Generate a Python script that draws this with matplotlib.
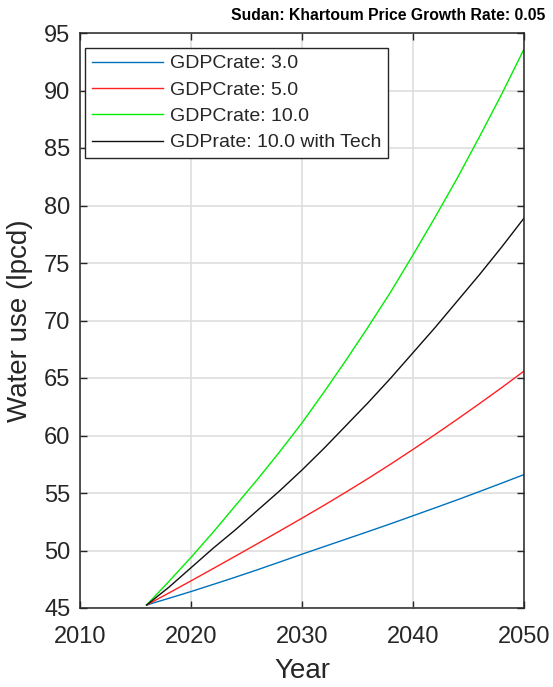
import matplotlib.pyplot as plt
import numpy as np

plt.rcParams['font.family'] = ['Liberation Sans', 'DejaVu Sans']

# values (every two years)
years = list(range(2016, 2051, 2))
gdp3 = [45.26, 45.84, 46.43, 47.05, 47.68, 48.33, 49.0, 49.68, 50.34,
        51.0, 51.66, 52.33, 53.02, 53.71, 54.41, 55.13, 55.86, 56.6]
gdp5 = [45.26, 46.3, 47.36, 48.43, 49.51, 50.6, 51.7, 52.81, 53.94,
        55.1, 56.29, 57.52, 58.79, 60.09, 61.42, 62.78, 64.17, 65.6]
gdp10 = [45.26, 47.3, 49.4, 51.6, 53.9, 56.2, 58.6, 61.1, 63.8,
         66.6, 69.5, 72.5, 75.7, 79.0, 82.4, 86.0, 89.7, 93.6]
gdp10_tech = [45.26, 46.8, 48.5, 50.2, 51.8, 53.5, 55.2, 57.0, 58.9,
              60.9, 62.9, 65.0, 67.2, 69.4, 71.7, 74.0, 76.4, 78.9]

labels = ['GDPCrate: 3.0', 'GDPCrate: 5.0', 'GDPCrate: 10.0', 'GDPrate: 10.0 with Tech']
colors = ['#0072BD', '#FF2020', '#00EE00', '#101010']

xticks = [2010, 2020, 2030, 2040, 2050]
yticks = np.arange(45, 96, 5)

fig = plt.figure(figsize=(5.53, 6.87), dpi=100)
ax = fig.add_axes([80 / 553, 1 - 608 / 687, 444 / 553, 575 / 687])

for series, lab, col in zip([gdp3, gdp5, gdp10, gdp10_tech], labels, colors):
    ax.plot(years, series, color=col, lw=1.0, label=lab)

ax.set_xlim(2010, 2050)
ax.set_ylim(45, 95)
ax.set_xticks(xticks)
ax.set_yticks(yticks)
ax.grid(True, color='#dedede', lw=1.2)
ax.set_axisbelow(True)
ax.tick_params(direction='in', length=5, width=1, top=True, right=True,
               labelsize=17, labelcolor='#262626', color='#262626')
ax.tick_params(axis='x', pad=13)
ax.tick_params(axis='y', pad=7)
for sp in ax.spines.values():
    sp.set_color('#262626')
    sp.set_linewidth(1.1)

ax.set_xlabel('Year', fontsize=20, color='#262626', labelpad=7)
ax.set_ylabel('Water use (lpcd)', fontsize=20, color='#262626', labelpad=8)

leg = ax.legend(loc='upper left', bbox_to_anchor=(0.011, 0.974), borderaxespad=0,
                fontsize=14, handlelength=3.66, labelspacing=0.45, fancybox=False,
                framealpha=1, edgecolor='#262626', borderpad=0.35, handletextpad=0.36)
leg.get_frame().set_linewidth(1.0)
for t in leg.get_texts():
    t.set_color('#262626')

fig.text(545 / 553, 1 - 15 / 687, 'Sudan: Khartoum Price Growth Rate: 0.05',
         ha='right', va='center', fontsize=11.3, fontweight='bold')

fig.savefig('out.png', dpi=100)
